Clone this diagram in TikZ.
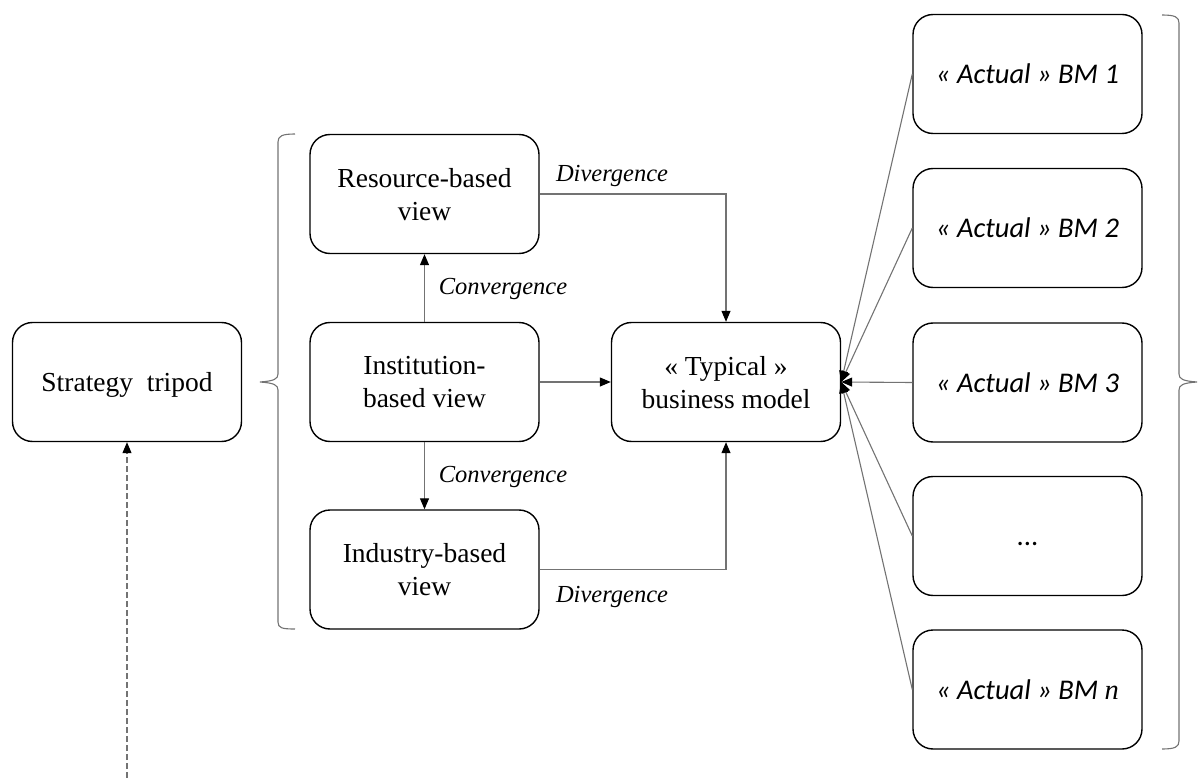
\documentclass[tikz,border=0pt]{standalone}
\usepackage{fontspec}
\setmainfont{Liberation Serif}
\newfontfamily\calib{Carlito}
\usetikzlibrary{arrows.meta}
\tikzset{
  box/.style={draw=black, line width=1.4pt, rounded corners=20pt, minimum width=229pt, minimum height=119pt, inner sep=0pt, align=center, font=\fontsize{27.5}{33}\selectfont, text depth=0pt},
  abox/.style={box, font=\calib\itshape\fontsize{28.5}{33}\selectfont},
  conn/.style={draw=black!55, line width=1.1pt, -{Triangle[length=11pt,width=9pt,color=black]}},
  lab/.style={font=\itshape\fontsize{24.5}{29}\selectfont, inner sep=0pt},
  brace/.style={draw=black!55, line width=1.1pt}
}
\begin{document}
\begin{tikzpicture}[x=1pt,y=-1pt]
\useasboundingbox (0,0) rectangle (1200,778);
\node[box] (st) at (127,382) {Strategy\ \ tripod};
\node[box] (rb) at (424.5,194) {Resource-based\\view};
\node[box] (ib) at (424.5,382) {Institution-\\based view};
\node[box] (ind) at (424.5,569.5) {Industry-based\\view};
\node[box] (tb) at (726,382) {« Typical »\\business model};
\node[abox] (a1) at (1027.5,74) {« Actual » BM 1};
\node[abox] (a2) at (1027.5,228) {« Actual » BM 2};
\node[abox] (a3) at (1027.5,382.5) {« Actual » BM 3};
\node[abox] (a4) at (1027.5,536) {\raisebox{-9pt}{\textup{...}}};
\node[abox] (an) at (1027.5,689.5) {« Actual » BM {\rmfamily n}};
% connectors
\draw[conn] (ib.north) -- (rb.south);
\draw[conn] (ib.south) -- (ind.north);
\draw[conn] (ib.east) -- (tb.west);
\draw[conn] (rb.east) -| (tb.north);
\draw[conn] (ind.east) -| (tb.south);
\foreach \n in {a1,a2,a3,a4,an}{\draw[conn] (\n.west) -- (tb.east);}
\coordinate (dstart) at (127,778);
\draw[conn, dashed, dash pattern=on 6pt off 3pt] (dstart) -- (st.south);
% labels
\node[lab] (d1) at (612,176) {Divergence};
\node[lab] (c1) at (503,289) {Convergence};
\node[lab] (c2) at (503,477) {Convergence};
\node[lab] (d2) at (612,597) {Divergence};
% braces
\draw[brace] (295,134) .. controls (282,134) and (278,136) .. (278,142) -- (278,374) .. controls (278,379) and (274,381) .. (260,382) .. controls (274,383) and (278,385) .. (278,390) -- (278,622) .. controls (278,628) and (282,629) .. (295,629);
\draw[brace] (1162,15) .. controls (1175,15) and (1179,17) .. (1179,23) -- (1179,374) .. controls (1179,379) and (1183,381) .. (1197,382) .. controls (1183,383) and (1179,385) .. (1179,390) -- (1179,741) .. controls (1179,747) and (1175,749) .. (1162,749);
\end{tikzpicture}
\end{document}
